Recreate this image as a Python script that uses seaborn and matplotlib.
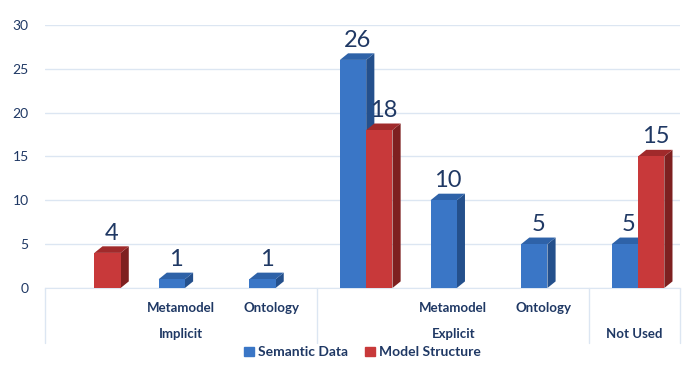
import matplotlib
matplotlib.use('Agg')
from matplotlib import pyplot as plt
from matplotlib.patches import Polygon
import matplotlib.transforms as mtransforms
import seaborn as sns
import pandas as pd
import numpy as np

# categories (sub label, group)
sub_labels = ['', 'Metamodel', 'Ontology', '', 'Metamodel', 'Ontology', '']
groups = ['Implicit', 'Explicit', 'Not Used']
group_spans = [(0, 2), (3, 5), (6, 6)]
semantic_data = [np.nan, 1, 1, 26, 10, 5, 5]
model_structure = [4, np.nan, np.nan, 18, np.nan, np.nan, 15]
series = ['Semantic Data', 'Model Structure']

front = {'Semantic Data': '#3A76C6', 'Model Structure': '#C8393A'}
side = {'Semantic Data': '#24508C', 'Model Structure': '#7E2020'}
top = {'Semantic Data': '#2E62A8', 'Model Structure': '#A02A2B'}
text_col = '#1F3864'

rows = []
for i in range(len(sub_labels)):
    rows.append({'pos': i, 'series': 'Semantic Data', 'value': semantic_data[i]})
    rows.append({'pos': i, 'series': 'Model Structure', 'value': model_structure[i]})
df = pd.DataFrame(rows)

sns.set_style('white')
plt.rcParams['font.family'] = ['Lato', 'DejaVu Sans']

fig = plt.figure(figsize=(6.88, 3.65), dpi=100)
ax = fig.add_axes([0.066, 0.211, 0.922, 0.721])

sns.barplot(data=df, x='pos', y='value', hue='series', hue_order=series,
            palette=front, saturation=1, width=0.58, ax=ax, legend=False,
            zorder=3, linewidth=0)

ax.set_xlim(-0.5, len(sub_labels) - 0.5)
ax.set_ylim(0, 30)
ax.set_yticks(range(0, 31, 5))
ax.yaxis.grid(True, color='#DCE6F2', lw=1)
ax.set_axisbelow(True)
for s in ax.spines.values():
    s.set_visible(False)
ax.spines['bottom'].set_visible(True)
ax.spines['bottom'].set_color('#DCE6F2')
ax.tick_params(axis='y', length=0, labelsize=10, labelcolor=text_col, pad=12)
ax.set_xticks([])
ax.set_xlabel('')
ax.set_ylabel('')

# pseudo 3D faces (behind the fronts) + value labels
dx, dy = 0.09, 0.75
for container, name in zip(ax.containers, series):
    for patch in container.patches:
        h = patch.get_height()
        if not np.isfinite(h) or h == 0:
            continue
        patch.set_x(patch.get_x() + 0.04)
        x0 = patch.get_x()
        w = patch.get_width()
        x1 = x0 + w
        ax.add_patch(Polygon([(x1, 0), (x1, h), (x1 + dx, h + dy), (x1 + dx, dy)],
                             closed=True, color=side[name], zorder=2.5, lw=0))
        ax.add_patch(Polygon([(x0, h), (x1, h), (x1 + dx, h + dy), (x0 + dx, h + dy)],
                             closed=True, color=top[name], zorder=2.5, lw=0))
        ax.annotate(f'{int(h)}', (x0 + w / 2 + dx / 2, h + dy), xytext=(0, 2),
                    textcoords='offset points', ha='center', va='bottom',
                    fontsize=17, color=text_col, zorder=5)

# hierarchical category axis
trans = mtransforms.blended_transform_factory(ax.transData, ax.transAxes)
for i, lab in enumerate(sub_labels):
    if lab:
        ax.text(i, -0.075, lab, transform=trans, ha='center', va='center',
                fontsize=9.5, fontweight='bold', color=text_col, clip_on=False)
for g, (a, b) in zip(groups, group_spans):
    ax.text((a + b) / 2, -0.173, g, transform=trans, ha='center', va='center',
            fontsize=9.5, fontweight='bold', color=text_col, clip_on=False)
bounds = [-0.5, 2.5, 5.5, 6.5]
for bx in bounds:
    ax.plot([bx, bx], [0, -0.21], transform=trans, color='#DCE6F2', lw=1,
            clip_on=False)

handles = [plt.Rectangle((0, 0), 1, 1, color=front[s]) for s in series]
ax.legend(handles, series, loc='center', bbox_to_anchor=(0.5, -0.245), ncol=2,
          frameon=False, handlelength=0.7, handleheight=0.7, handletextpad=0.3,
          columnspacing=1.2, prop={'size': 10, 'weight': 'bold'},
          labelcolor=text_col)

fig.savefig('out.png', dpi=100)
